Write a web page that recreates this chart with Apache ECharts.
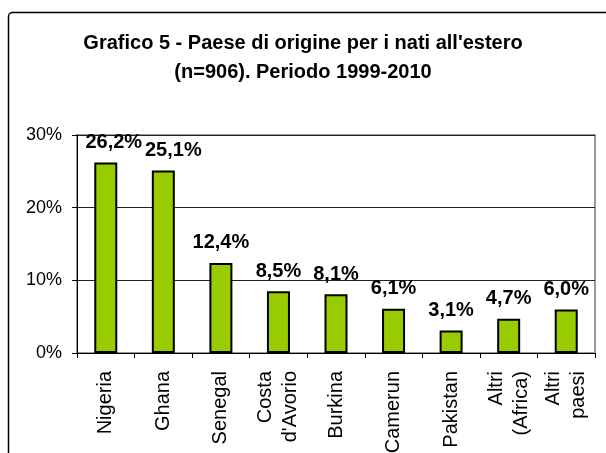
<!DOCTYPE html>
<html><head><meta charset="utf-8">
<script src="https://cdn.jsdelivr.net/npm/echarts@6/dist/echarts.min.js"></script>
<style>html,body{margin:0;padding:0;background:#fff}#c{width:606px;height:453px}</style>
</head><body><div id="c"></div>
<script>
const categories = ['Nigeria', 'Ghana', 'Senegal', "Costa\nd'Avorio", 'Burkina', 'Camerun', 'Pakistan', 'Altri\n(Africa)', 'Altri\npaesi'];
const values = [26.2, 25.1, 12.4, 8.5, 8.1, 6.1, 3.1, 4.7, 6.0];
const yTickValues = [0, 10, 20, 30];
const titleText = "Grafico 5 - Paese di origine per i nati all'estero\n(n=906). Periodo 1999-2010";

const labelShift = {0: [8, 0], 1: [10, 0]};
const FONT = '"Liberation Sans", Arial, sans-serif';

const chart = echarts.init(document.getElementById('c'), null, {renderer: 'canvas'});
chart.setOption({
  animation: false,
  backgroundColor: '#fff',
  graphic: [{
    type: 'rect', left: 6, top: 10, z: 100, silent: true,
    shape: {width: 640, height: 480, r: 4},
    style: {fill: 'none', stroke: '#000', lineWidth: 1.5}
  }],
  title: {
    text: titleText, left: 'center', top: 24,
    textStyle: {fontFamily: FONT, fontSize: 20, fontWeight: 'bold', color: '#000', lineHeight: 29}
  },
  grid: {left: 77, right: 11, top: 135, bottom: 100, containLabel: false, outerBoundsMode: 'none',
         show: true, borderColor: '#999', borderWidth: 2},
  xAxis: {
    type: 'category', data: categories,
    axisLine: {lineStyle: {color: '#000', width: 1}},
    axisTick: {show: true, length: 5, lineStyle: {color: '#000'}},
    axisLabel: {interval: 0, rotate: 90, margin: 18, fontFamily: FONT, fontSize: 20, color: '#000', lineHeight: 25}
  },
  yAxis: {
    type: 'value', min: yTickValues[0], max: yTickValues[yTickValues.length - 1], interval: 10,
    axisLine: {show: true, lineStyle: {color: '#000', width: 1}},
    axisTick: {show: true, length: 5, lineStyle: {color: '#000'}},
    axisLabel: {formatter: '{value}%', margin: 15, fontFamily: FONT, fontSize: 18, color: '#000'},
    splitLine: {lineStyle: {color: '#222', width: 1}}
  },
  series: [{
    type: 'bar', barWidth: 23,
    data: values.map((v, i) => labelShift[i] ? {value: v, label: {offset: labelShift[i]}} : v),
    itemStyle: {color: '#99CC00', borderColor: '#000', borderWidth: 2},
    label: {
      show: true, position: 'top', distance: 10,
      fontFamily: FONT, fontSize: 20, fontWeight: 'bold', color: '#000',
      formatter: p => p.value.toFixed(1).replace('.', ',') + '%'
    }
  }]
});
</script></body></html>
